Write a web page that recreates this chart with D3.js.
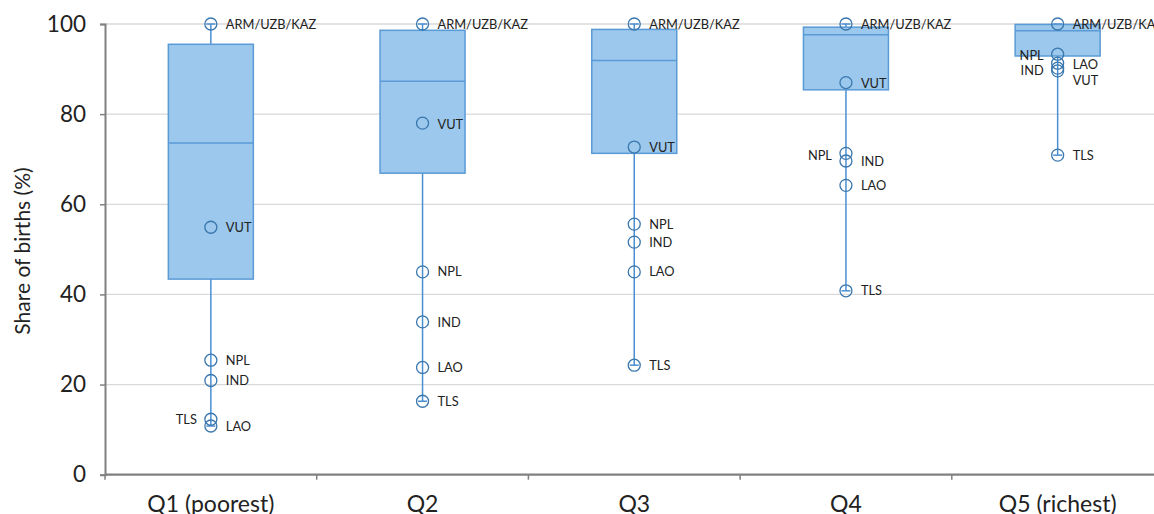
<!DOCTYPE html>
<html>
<head>
<meta charset="utf-8">
<script src="https://cdn.jsdelivr.net/npm/d3@7"></script>
<style>
  html, body { margin: 0; padding: 0; background: #fff; overflow: hidden; }
  svg { display: block; font-family: Lato, "Noto Sans", sans-serif; }
</style>
</head>
<body>
<svg id="chart" width="1154" height="514"></svg>
<script>
// ---- Data ----
const categories = ["Q1 (poorest)", "Q2", "Q3", "Q4", "Q5 (richest)"];
const lowerQuartile = [43.4, 66.9, 71.3, 85.4, 92.9];
const median = [73.6, 87.3, 91.9, 97.6, 98.5];
const upperQuartile = [95.5, 98.6, 98.8, 99.3, 99.9];

const countries = ["ARM/UZB/KAZ", "VUT", "NPL", "IND", "LAO", "TLS"];
const valARM = [100, 100, 100, 100, 100];
const valVUT = [54.9, 78.0, 72.7, 87.0, 89.6];
const valNPL = [25.4, 45.0, 55.6, 71.3, 93.3];
const valIND = [20.9, 33.9, 51.6, 69.6, 90.2];
const valLAO = [10.8, 23.8, 45.0, 64.2, 91.3];
const valTLS = [12.3, 16.3, 24.3, 40.8, 70.9];
const countryValues = [valARM, valVUT, valNPL, valIND, valLAO, valTLS];

const yTicks = [0, 20, 40, 60, 80, 100];
const yTitle = "Share of births (%)";

// ---- Layout / label placement (not data) ----
const margin = { left: 105, top: 24 };
const bandW = 211.7;
const plotW = bandW * categories.length;
const plotH = 450.7;
const leftLabels = new Set(["TLS|0", "NPL|3", "NPL|4", "IND|4"]);
const labelDy = { "VUT|4": 10, "IND|4": 2, "NPL|4": 1, "LAO|4": 1, "NPL|3": 2, "VUT|3": 1, "VUT|1": 1 };

const boxFill = "#9bc8ec";
const boxStroke = "#5a9ad6";
const whiskerColor = "#4a8fd2";
const circleColor = "#3a77ae";

const svg = d3.select("#chart");
const g = svg.append("g").attr("transform", `translate(${margin.left},${margin.top})`);

const x = d3.scaleBand().domain(categories).range([0, plotW]).paddingInner(0).paddingOuter(0);
const y = d3.scaleLinear().domain([0, 100]).range([plotH, 0]);

// Gridlines
g.append("g").selectAll("line").data(yTicks.filter(t => t > 0)).join("line")
  .attr("x1", 0).attr("x2", plotW + 20)
  .attr("y1", d => y(d)).attr("y2", d => y(d))
  .attr("stroke", "#d9d9d9").attr("stroke-width", 1.3);

// Y axis
const yAxis = g.append("g").call(d3.axisLeft(y).tickValues(yTicks).tickSize(5).tickPadding(14));
yAxis.select(".domain").attr("stroke", "#808080").attr("stroke-width", 2);
yAxis.selectAll(".tick line").attr("stroke", "#808080").attr("stroke-width", 1.5);
yAxis.selectAll(".tick text").attr("font-size", 22.5).attr("fill", "#222").attr("font-family", "Lato, sans-serif");

// X axis
const xAxis = g.append("g").attr("transform", `translate(0,${plotH})`)
  .call(d3.axisBottom(x).tickSize(0).tickPadding(21));
xAxis.select(".domain").attr("stroke", "#808080").attr("stroke-width", 2.2)
  .attr("d", `M0,0H${plotW + 20}`);
xAxis.selectAll(".tick text").attr("font-size", 23).attr("fill", "#222").attr("font-family", "Lato, sans-serif");
xAxis.append("g").selectAll("line").data(categories).join("line")
  .attr("x1", d => x(d)).attr("x2", d => x(d))
  .attr("y1", 0).attr("y2", 5)
  .attr("stroke", "#808080").attr("stroke-width", 1.5);

// Y title
svg.append("text")
  .attr("transform", `translate(30,251) rotate(-90)`)
  .attr("text-anchor", "middle")
  .attr("font-size", 21).attr("fill", "#222")
  .text(yTitle);

// Boxes
const boxW = 85;
categories.forEach((c, i) => {
  const cx = x(c) + x.bandwidth() / 2;
  const vals = countryValues.map(v => v[i]);
  const lo = d3.min(vals), hi = d3.max(vals);
  const bg = g.append("g");
  bg.append("line").attr("x1", cx).attr("x2", cx)
    .attr("y1", y(hi)).attr("y2", y(upperQuartile[i]))
    .attr("stroke", whiskerColor).attr("stroke-width", 1.5);
  bg.append("line").attr("x1", cx).attr("x2", cx)
    .attr("y1", y(lowerQuartile[i])).attr("y2", y(lo))
    .attr("stroke", whiskerColor).attr("stroke-width", 1.5);
  [hi, lo].forEach(v => {
    bg.append("line").attr("x1", cx - 4.5).attr("x2", cx + 4.5)
      .attr("y1", y(v)).attr("y2", y(v))
      .attr("stroke", whiskerColor).attr("stroke-width", 1.5);
  });
  bg.append("rect")
    .attr("x", cx - boxW / 2).attr("width", boxW)
    .attr("y", y(upperQuartile[i])).attr("height", y(lowerQuartile[i]) - y(upperQuartile[i]))
    .attr("fill", boxFill).attr("stroke", boxStroke).attr("stroke-width", 1.5);
  bg.append("line")
    .attr("x1", cx - boxW / 2).attr("x2", cx + boxW / 2)
    .attr("y1", y(median[i])).attr("y2", y(median[i]))
    .attr("stroke", boxStroke).attr("stroke-width", 1.5);
});

// Points and labels
const pts = [];
countries.forEach((name, k) => {
  categories.forEach((c, i) => {
    pts.push({ name, i, cat: c, v: countryValues[k][i] });
  });
});
g.append("g").selectAll("circle").data(pts).join("circle")
  .attr("cx", d => x(d.cat) + x.bandwidth() / 2)
  .attr("cy", d => y(d.v))
  .attr("r", 6)
  .attr("fill", "none")
  .attr("stroke", circleColor).attr("stroke-width", 1.3);

g.append("g").selectAll("text").data(pts).join("text")
  .attr("x", d => {
    const cx = x(d.cat) + x.bandwidth() / 2;
    return leftLabels.has(d.name + "|" + d.i) ? cx - 14 : cx + 15;
  })
  .attr("y", d => y(d.v) + (labelDy[d.name + "|" + d.i] || 0))
  .attr("dy", "0.36em")
  .attr("text-anchor", d => leftLabels.has(d.name + "|" + d.i) ? "end" : "start")
  .attr("font-size", 12.8).attr("fill", "#222")
  .text(d => d.name);
</script>
</body>
</html>
